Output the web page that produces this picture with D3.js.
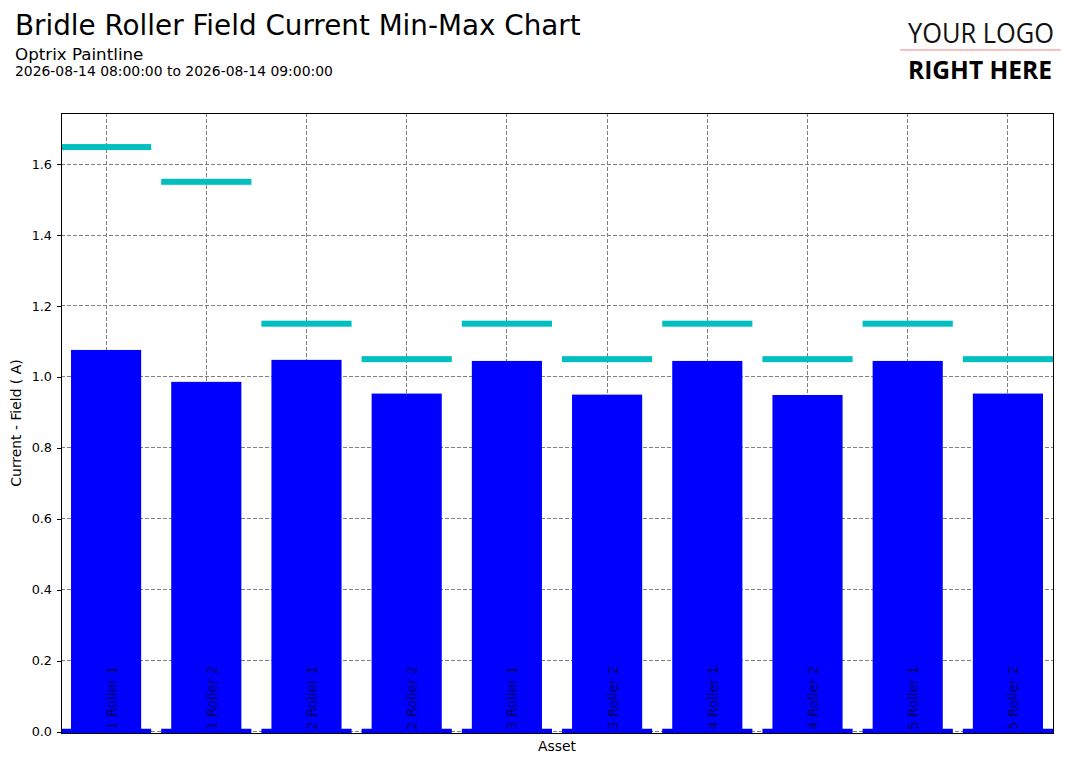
<!DOCTYPE html>
<html>
<head>
<meta charset="utf-8">
<script src="https://cdn.jsdelivr.net/npm/d3@7"></script>
<style>
    body { margin: 0; background: #fff; }
    svg { display: block; font-family: "DejaVu Sans", sans-serif; }
</style>
</head>
<body>
<div class="canvas"></div>
<script>
// chart values
const assets = ['1 Roller 1', '1 Roller 2', '2 Roller 1', '2 Roller 2', '3 Roller 1',
    '3 Roller 2', '4 Roller 1', '4 Roller 2', '5 Roller 1', '5 Roller 2'];
const minValues = [0.008, 0.008, 0.008, 0.008, 0.008, 0.008, 0.008, 0.008, 0.008, 0.008];
const avgValues = [1.076, 0.986, 1.048, 0.953, 1.045, 0.950, 1.045, 0.949, 1.045, 0.953];
const maxValues = [1.648, 1.550, 1.150, 1.050, 1.150, 1.050, 1.150, 1.050, 1.150, 1.050];
const yTicks = [0, 0.2, 0.4, 0.6, 0.8, 1.0, 1.2, 1.4, 1.6];

const dimensions = { width: 1077, height: 764 };
const plot = { left: 61, right: 1053, top: 113, bottom: 733 };

const svg = d3.select('.canvas')
    .append('svg')
    .attr('width', dimensions.width)
    .attr('height', dimensions.height);

// scales
const x = d3.scaleBand()
    .domain(assets)
    .range([plot.left, plot.right])
    .paddingInner(0.1)
    .paddingOuter(0);

const y = d3.scaleLinear()
    .domain([-0.004, 1.744])
    .range([plot.bottom, plot.top]);

const center = name => x(name) + x.bandwidth() / 2;

// titles
svg.append('text')
    .attr('x', 15).attr('y', 35)
    .attr('font-size', 27.8)
    .text('Bridle Roller Field Current Min-Max Chart');

svg.append('text')
    .attr('x', 15).attr('y', 60)
    .attr('font-size', 16.7)
    .text('Optrix Paintline');

svg.append('text')
    .attr('x', 15).attr('y', 76)
    .attr('font-size', 13.9)
    .text('2026-08-14 08:00:00 to 2026-08-14 09:00:00');

// logo
const logo = svg.append('g');
logo.append('text')
    .attr('x', 981).attr('y', 42.5)
    .attr('text-anchor', 'middle')
    .attr('font-family', '"Open Sans", sans-serif')
    .attr('font-weight', 400)
    .attr('font-size', 26.6)
    .attr('textLength', 146)
    .attr('lengthAdjust', 'spacingAndGlyphs')
    .attr('fill', '#111')
    .text('YOUR LOGO');
logo.append('line')
    .attr('x1', 900).attr('x2', 1061)
    .attr('y1', 50).attr('y2', 50)
    .attr('stroke', '#f08080')
    .attr('stroke-width', 1);
logo.append('text')
    .attr('x', 980).attr('y', 78.5)
    .attr('text-anchor', 'middle')
    .attr('font-family', '"Open Sans", sans-serif')
    .attr('font-weight', 700)
    .attr('font-size', 25.6)
    .attr('textLength', 144)
    .attr('lengthAdjust', 'spacingAndGlyphs')
    .attr('fill', '#000')
    .text('RIGHT HERE');

// grid
const grid = svg.append('g')
    .attr('stroke', '#808080')
    .attr('stroke-width', 1)
    .attr('stroke-dasharray', '4,2')
    .attr('shape-rendering', 'crispEdges');

grid.selectAll('line.h')
    .data(yTicks)
    .enter().append('line')
    .attr('class', 'h')
    .attr('x1', plot.left).attr('x2', plot.right)
    .attr('y1', d => y(d)).attr('y2', d => y(d));

grid.selectAll('line.v')
    .data(assets)
    .enter().append('line')
    .attr('class', 'v')
    .attr('x1', center).attr('x2', center)
    .attr('y1', plot.top).attr('y2', plot.bottom);

// min bars (wide, thin at the bottom)
svg.append('g').selectAll('rect')
    .data(assets)
    .enter().append('rect')
    .attr('x', d => x(d))
    .attr('width', x.bandwidth())
    .attr('y', (d, i) => y(minValues[i]))
    .attr('height', (d, i) => y(y.domain()[0]) - y(minValues[i]))
    .attr('fill', '#0000ff');

// average bars
const avgWidth = x.step() * 0.7;
svg.append('g').selectAll('rect')
    .data(assets)
    .enter().append('rect')
    .attr('x', d => center(d) - avgWidth / 2)
    .attr('width', avgWidth)
    .attr('y', (d, i) => y(avgValues[i]))
    .attr('height', (d, i) => y(0) - y(avgValues[i]))
    .attr('fill', '#0000ff');

// max markers
svg.append('g').selectAll('rect')
    .data(assets)
    .enter().append('rect')
    .attr('x', d => x(d))
    .attr('width', x.bandwidth())
    .attr('y', (d, i) => y(maxValues[i]) - 3)
    .attr('height', 6)
    .attr('fill', '#00bfbf');

// category labels drawn inside the plot
svg.append('g').selectAll('text')
    .data(assets)
    .enter().append('text')
    .attr('transform', d => `translate(${center(d) + 10.5}, ${plot.bottom - 3}) rotate(-90)`)
    .attr('font-size', 13.5)
    .attr('fill', '#000')
    .attr('fill-opacity', 0.65)
    .text(d => d);

// y axis
const yAxis = d3.axisLeft(y)
    .tickValues(yTicks)
    .tickFormat(d3.format('.1f'))
    .tickSize(4.5)
    .tickPadding(4.5);

const yAxisGroup = svg.append('g')
    .attr('transform', `translate(${plot.left}, 0)`)
    .call(yAxis);
yAxisGroup.select('.domain').remove();
yAxisGroup.selectAll('text')
    .attr('font-family', '"DejaVu Sans", sans-serif')
    .attr('font-size', 12.8)
    .attr('fill', '#000');
yAxisGroup.selectAll('line')
    .attr('stroke', '#000')
    .attr('shape-rendering', 'crispEdges');

// frame
svg.append('rect')
    .attr('x', plot.left).attr('y', plot.top)
    .attr('width', plot.right - plot.left)
    .attr('height', plot.bottom - plot.top)
    .attr('fill', 'none')
    .attr('stroke', '#000')
    .attr('stroke-width', 1)
    .attr('shape-rendering', 'crispEdges');

// axis labels
svg.append('text')
    .attr('x', (plot.left + plot.right) / 2).attr('y', 751)
    .attr('text-anchor', 'middle')
    .attr('font-size', 13.9)
    .text('Asset');

svg.append('text')
    .attr('transform', `translate(21, ${(plot.top + plot.bottom) / 2}) rotate(-90)`)
    .attr('text-anchor', 'middle')
    .attr('font-size', 13.9)
    .text('Current - Field ( A)');
</script>
</body>
</html>
